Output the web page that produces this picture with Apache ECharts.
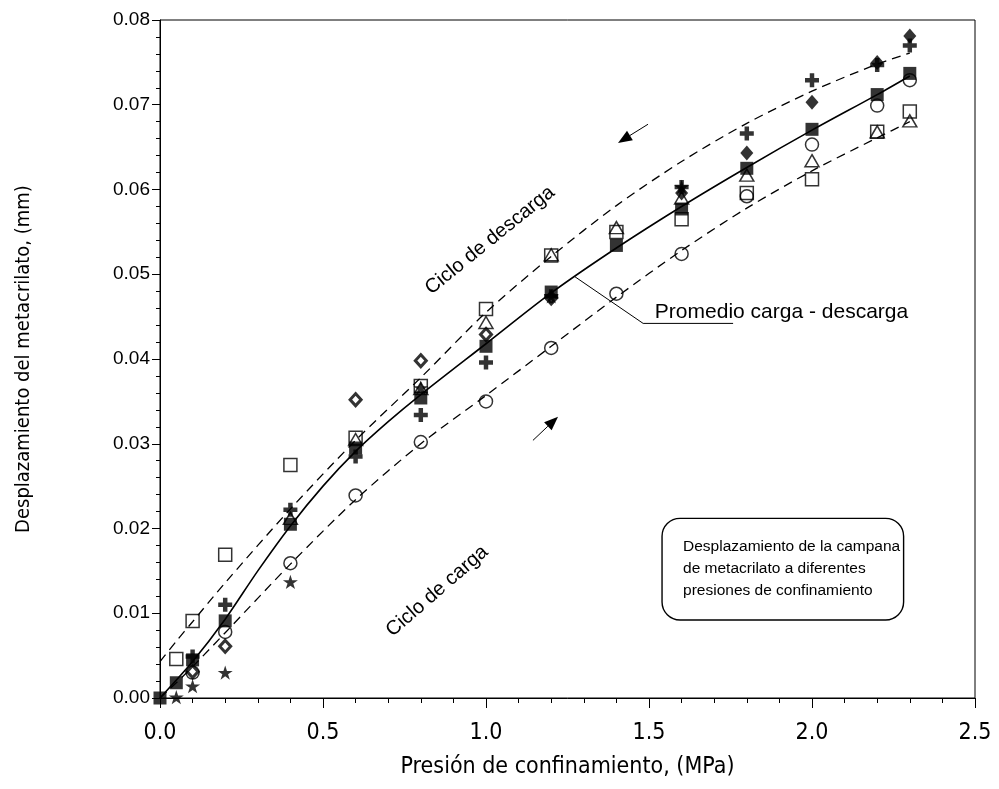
<!DOCTYPE html>
<html><head><meta charset="utf-8">
<script src="https://cdn.jsdelivr.net/npm/echarts@6/dist/echarts.min.js"></script>
<style>html,body{margin:0;padding:0;background:#fff}#c{width:999px;height:789px}</style>
</head><body><div id="c"></div>
<script>
// ---- data ----
const pressures = [0, 0.05, 0.1, 0.2, 0.4, 0.6, 0.8, 1.0, 1.2, 1.4, 1.6, 1.8, 2.0, 2.2, 2.3];
const promedio      = [0, 0.0018, 0.0045, 0.0091, 0.0205, 0.0295, 0.0354, 0.0415, 0.0479, 0.0534, 0.0577, 0.0625, 0.0671, 0.0712, 0.0737];
const cuadroAbierto = [null, 0.0046, 0.0091, 0.0169, 0.0275, 0.0307, 0.0368, 0.0459, 0.0522, 0.0550, 0.0565, 0.0596, 0.0612, 0.0668, 0.0692];
const circulo       = [null, null, 0.0030, 0.0078, 0.0159, 0.0239, 0.0302, 0.0350, 0.0413, 0.0477, 0.0524, 0.0592, 0.0653, 0.0699, 0.0729];
const triangulo     = [null, null, null, null, 0.0212, 0.0305, 0.0365, 0.0443, 0.0523, 0.0555, 0.0590, 0.0617, 0.0634, 0.0668, 0.0681];
const rombo         = [null, null, 0.0031, 0.0061, null, 0.0352, 0.0398, 0.0429, 0.0472, null, null, null, null, null, null];
const romboLleno    = [null, null, null, null, null, null, null, null, null, null, 0.0596, 0.0643, 0.0703, 0.0750, 0.0781];
const cruz          = [null, null, 0.0049, 0.0110, 0.0222, 0.0285, 0.0334, 0.0396, 0.0474, null, 0.0603, 0.0666, 0.0729, 0.0747, 0.0770];
const estrella      = [null, 0.0001, 0.0014, 0.0030, 0.0137, null, 0.0366, null, 0.0474, null, 0.0603, null, null, null, null];

// fitted curves
const promX         = [0, 0.1, 0.2, 0.3, 0.4, 0.5, 0.6, 0.7, 0.8, 1.0, 1.2, 1.4, 1.6, 1.8, 2.0, 2.2, 2.3];
const curvaPromedio = [0.0000, 0.0043, 0.0093, 0.0150, 0.0203, 0.0250, 0.0291, 0.0326, 0.0358, 0.0418, 0.0478, 0.0531, 0.0580, 0.0626, 0.0670, 0.0712, 0.0734];
const curvaX        = [0, 0.05, 0.1, 0.2, 0.4, 0.6, 0.8, 1.0, 1.2, 1.4, 1.6, 1.8, 2.0, 2.2, 2.3];
const cicloDescarga = [0.0043, 0.0067, 0.0090, 0.0136, 0.0223, 0.0304, 0.0378, 0.0455, 0.0521, 0.0581, 0.0633, 0.0678, 0.0716, 0.0748, 0.0761];
const cicloCarga    = [0.0000, 0.0018, 0.0037, 0.0077, 0.0158, 0.0234, 0.0300, 0.0357, 0.0415, 0.0473, 0.0528, 0.0578, 0.0622, 0.0661, 0.0680];

const xTicks = [0, 0.5, 1.0, 1.5, 2.0, 2.5];
const yTicks = [0, 0.01, 0.02, 0.03, 0.04, 0.05, 0.06, 0.07, 0.08];

// annotation anchors (data coordinates)
const flechaDescarga = [[1.497, 0.0677], [1.405, 0.0655]];
const flechaCarga = [[1.144, 0.0304], [1.221, 0.0332]];
const guiaPromedio = [[1.273, 0.0497], [1.482, 0.0442], [1.758, 0.0442]];

const pair = (xs, ys) => xs.map((x, i) => [x, ys[i]]).filter(d => d[1] != null);

const NARROW = '"Liberation Sans Narrow","Arial Narrow","DejaVu Sans Condensed",sans-serif';
const SANS = '"Liberation Sans",Arial,sans-serif';
const PLUS = 'path://M-0.32,-1H0.32V-0.32H1V0.32H0.32V1H-0.32V0.32H-1V-0.32H-0.32Z';
const STAR = 'path://M0,-1L0.2245,-0.309L0.951,-0.309L0.363,0.118L0.588,0.809L0,0.382L-0.588,0.809L-0.363,0.118L-0.951,-0.309L-0.2245,-0.309Z';
const openStyle = {color: 'rgba(0,0,0,0)', borderColor: '#000', borderWidth: 1.5};

const chart = echarts.init(document.getElementById('c'), null, {renderer: 'canvas'});

function sc(name, data, symbol, size, style, keep) {
  return {type: 'scatter', name, data, symbol, symbolSize: size, symbolKeepAspect: !!keep,
    itemStyle: style, z: 3, silent: true, animation: false};
}

const option = {
  animation: false,
  backgroundColor: '#fff',
  grid: {left: 160, right: 24, top: 20, bottom: 91, show: true, borderColor: '#000', borderWidth: 1, backgroundColor: 'transparent'},
  xAxis: {
    type: 'value', min: 0, max: 2.5, interval: 0.5,
    name: 'Presión de confinamiento, (MPa)', nameLocation: 'middle', nameGap: 58,
    nameTextStyle: {fontFamily: NARROW, fontSize: 23, color: '#000'},
    axisLine: {show: true, onZero: false, lineStyle: {color: '#000', width: 1}},
    axisTick: {show: true, inside: false, length: 10, lineStyle: {color: '#000', width: 1}},
    minorTick: {show: true, splitNumber: 5, length: 5, lineStyle: {color: '#000', width: 1}},
    splitLine: {show: false},
    axisLabel: {fontFamily: NARROW, fontSize: 23, color: '#000', margin: 24,
      formatter: v => { const t = xTicks.find(k => Math.abs(k - v) < 1e-9); return t == null ? '' : t.toFixed(1); }}
  },
  yAxis: {
    type: 'value', min: 0, max: 0.08, interval: 0.01,
    name: 'Desplazamiento del metacrilato, (mm)', nameLocation: 'middle', nameGap: 126,
    nameTextStyle: {fontFamily: NARROW, fontSize: 20, color: '#000'},
    axisLine: {show: true, onZero: false, lineStyle: {color: '#000', width: 1}},
    axisTick: {show: true, inside: false, length: 8, lineStyle: {color: '#000', width: 1}},
    minorTick: {show: true, splitNumber: 5, length: 4, lineStyle: {color: '#000', width: 1}},
    splitLine: {show: false},
    axisLabel: {fontFamily: SANS, fontSize: 19, color: '#000', margin: 10,
      formatter: v => { const t = yTicks.find(k => Math.abs(k - v) < 1e-9); return t == null ? '' : t.toFixed(2); }}
  },
  series: [
    {type: 'line', name: 'Ciclo de descarga', data: pair(curvaX, cicloDescarga), smooth: 0.3, showSymbol: false, symbol: 'none',
      lineStyle: {color: '#000', width: 1.3, type: [9, 6]}, z: 2, silent: true},
    {type: 'line', name: 'Ciclo de carga', data: pair(curvaX, cicloCarga), smooth: 0.3, showSymbol: false, symbol: 'none',
      lineStyle: {color: '#000', width: 1.3, type: [9, 6]}, z: 2, silent: true},
    {type: 'line', name: 'Promedio', data: pair(promX, curvaPromedio), smooth: 0.3, showSymbol: false, symbol: 'none',
      lineStyle: {color: '#000', width: 1.6}, z: 2, silent: true},
    {type: 'line', name: 'guia', data: guiaPromedio, showSymbol: false, symbol: 'none',
      lineStyle: {color: '#000', width: 1}, z: 2, silent: true},
    sc('cuadro', pair(pressures, cuadroAbierto), 'rect', 13, openStyle),
    sc('circulo', pair(pressures, circulo), 'circle', 13, openStyle),
    sc('triangulo', pair(pressures, triangulo), 'triangle', [14, 12], openStyle),
    sc('rombo', pair(pressures, rombo), 'diamond', [11, 12], {color: 'rgba(0,0,0,0)', borderColor: '#000', borderWidth: 3}),
    sc('estrella', pair(pressures, estrella), STAR, 15, {color: '#000'}, true),
    sc('cruz', pair(pressures, cruz), PLUS, 14, {color: '#000'}, true),
    sc('romboLleno', pair(pressures, romboLleno), 'diamond', [13, 15], {color: '#000'}),
    sc('promedio', pair(pressures, promedio), 'rect', 13, {color: '#000'})
  ]
};
chart.setOption(option);

function px(p) { return chart.convertToPixel({gridIndex: 0}, p); }
function arrow(seg) {
  const a = px(seg[0]), b = px(seg[1]);
  const dx = b[0] - a[0], dy = b[1] - a[1], L = Math.hypot(dx, dy);
  const ux = dx / L, uy = dy / L, hl = 14, hw = 5.5;
  const bx = b[0] - ux * hl, by = b[1] - uy * hl;
  return [
    {type: 'line', shape: {x1: a[0], y1: a[1], x2: bx, y2: by}, style: {stroke: '#000', lineWidth: 1}, z: 10},
    {type: 'polygon', shape: {points: [[b[0], b[1]], [bx - uy * hw, by + ux * hw], [bx + uy * hw, by - ux * hw]]},
      style: {fill: '#000'}, z: 10}
  ];
}
const tDesc = px([1.012, 0.0540]);
const tCarga = px([0.850, 0.0126]);
const tProm = px([1.518, 0.0455]);
const boxTL = px([1.540, 0.0212]);
const boxBR = px([2.281, 0.0092]);

chart.setOption({
  graphic: [
    ...arrow(flechaDescarga),
    ...arrow(flechaCarga),
    {type: 'text', x: tDesc[0], y: tDesc[1], rotation: 39 * Math.PI / 180, z: 10,
      style: {text: 'Ciclo de descarga', fontFamily: SANS, fontSize: 20, fill: '#000', align: 'center', verticalAlign: 'middle'}},
    {type: 'text', x: tCarga[0], y: tCarga[1], rotation: 41 * Math.PI / 180, z: 10,
      style: {text: 'Ciclo de carga', fontFamily: SANS, fontSize: 20, fill: '#000', align: 'center', verticalAlign: 'middle'}},
    {type: 'text', x: tProm[0], y: tProm[1], z: 10,
      style: {text: 'Promedio carga - descarga', fontFamily: SANS, fontSize: 21, fill: '#000', align: 'left', verticalAlign: 'middle'}},
    {type: 'rect', shape: {x: boxTL[0], y: boxTL[1], width: boxBR[0] - boxTL[0], height: boxBR[1] - boxTL[1], r: 18},
      style: {fill: '#fff', stroke: '#000', lineWidth: 1.4}, z: 10},
    {type: 'text', x: boxTL[0] + 21, y: (boxTL[1] + boxBR[1]) / 2, z: 11,
      style: {text: 'Desplazamiento de la campana\nde metacrilato a diferentes\npresiones de confinamiento',
        fontFamily: SANS, fontSize: 15.5, lineHeight: 22, fill: '#000', align: 'left', verticalAlign: 'middle'}}
  ]
});
</script>
</body></html>
